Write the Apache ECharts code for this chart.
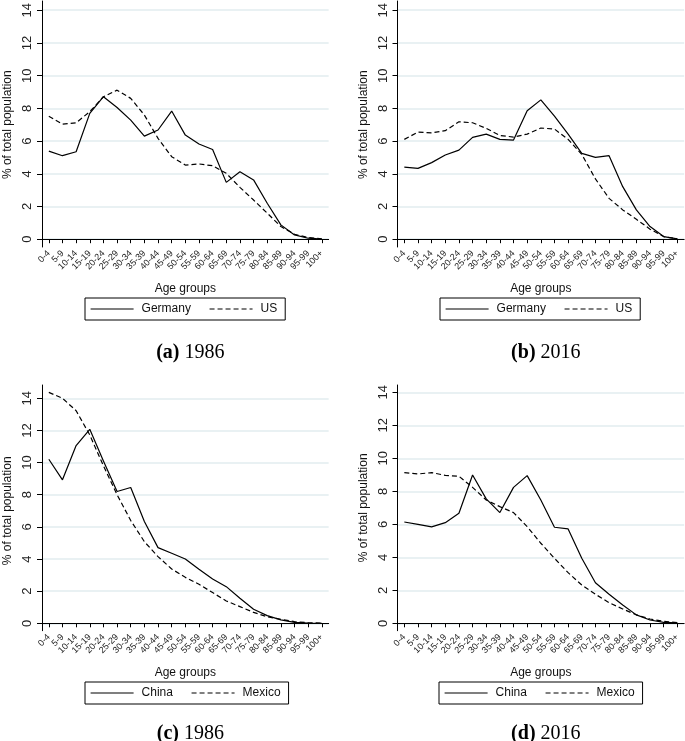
<!DOCTYPE html>
<html>
<head>
<meta charset="utf-8">
<script src="https://cdn.jsdelivr.net/npm/echarts@6/dist/echarts.min.js"></script>
<style>
html,body{margin:0;padding:0;background:#fff;}
#chart{width:685px;height:741px;}
</style>
</head>
<body>
<div id="chart"></div>
<script>
const ageGroups = ['0-4','5-9','10-14','15-19','20-24','25-29','30-34','35-39','40-44','45-49','50-54','55-59','60-64','65-69','70-74','75-79','80-84','85-89','90-94','95-99','100+'];

const germany1986 = [5.35,5.07,5.31,7.64,8.65,8.0,7.23,6.26,6.63,7.78,6.32,5.78,5.45,3.45,4.1,3.6,2.18,0.87,0.26,0.06,0.01];
const us1986      = [7.47,6.99,7.07,7.74,8.65,9.05,8.55,7.54,6.12,5.01,4.5,4.57,4.46,4.0,3.15,2.38,1.58,0.77,0.3,0.1,0.02];
const germany2016 = [4.38,4.3,4.65,5.11,5.41,6.18,6.38,6.06,6.02,7.8,8.46,7.47,6.38,5.21,4.97,5.07,3.19,1.78,0.77,0.16,0.02];
const us2016      = [6.06,6.5,6.46,6.59,7.13,7.07,6.73,6.3,6.2,6.38,6.75,6.69,6.06,5.15,3.66,2.48,1.78,1.21,0.61,0.16,0.02];
const china1986   = [10.21,8.93,11.06,12.07,10.1,8.2,8.45,6.33,4.71,4.36,4.0,3.36,2.76,2.28,1.56,0.87,0.48,0.21,0.06,0.02,0.0];
const mexico1986  = [14.37,14.0,13.23,11.72,9.8,8.0,6.4,5.08,4.15,3.38,2.86,2.43,1.91,1.39,1.04,0.68,0.41,0.25,0.1,0.04,0.01];
const china2016   = [6.14,6.0,5.84,6.1,6.67,8.99,7.54,6.71,8.24,8.95,7.47,5.82,5.72,3.94,2.46,1.76,1.11,0.51,0.2,0.06,0.02];
const mexico2016  = [9.13,9.05,9.13,8.97,8.91,8.24,7.47,7.07,6.71,5.86,4.85,3.94,3.07,2.32,1.76,1.25,0.87,0.51,0.26,0.12,0.04];

const yTickMin = 0, yTickMax = 14, yTickStep = 2;
const xTitle = 'Age groups';
const yTitle = '% of total population';

const panels = [
  {tag:'(a)', year:'1986', names:['Germany','US'], data:[germany1986, us1986],
   left:42, frameTop:1, frameBottom:247, zeroY:239.2, unit:16.47, legendLeft:85, legendTop:298, capY:338},
  {tag:'(b)', year:'2016', names:['Germany','US'], data:[germany2016, us2016],
   left:397.5, frameTop:1, frameBottom:247, zeroY:239.2, unit:16.47, legendLeft:440, legendTop:298, capY:338},
  {tag:'(c)', year:'1986', names:['China','Mexico'], data:[china1986, mexico1986],
   left:42, frameTop:385, frameBottom:630.7, zeroY:623.3, unit:16.07, legendLeft:85, legendTop:682, capY:719},
  {tag:'(d)', year:'2016', names:['China','Mexico'], data:[china2016, mexico2016],
   left:397.5, frameTop:385, frameBottom:630.7, zeroY:623.3, unit:16.5, legendLeft:439, legendTop:682, capY:719}
];

const catWidth = 13.65;
const plotWidth = catWidth * ageGroups.length;
const font = 'Liberation Sans, Arial, sans-serif';
const grid = [], xAxis = [], yAxis = [], series = [], legend = [], title = [];

panels.forEach((p, i) => {
  grid.push({left: p.left, top: p.frameTop, width: plotWidth, height: p.frameBottom - p.frameTop, containLabel: false});
  xAxis.push({
    type:'category', gridIndex:i, data: ageGroups, boundaryGap:true,
    axisLine:{show:true, lineStyle:{color:'#000', width:1}},
    axisTick:{show:true, alignWithLabel:true, length:4, lineStyle:{color:'#000'}},
    axisLabel:{show:true, rotate:45, interval:0, fontSize:9, color:'#222', fontFamily:font, margin:5},
    splitLine:{show:false},
    name: xTitle, nameLocation:'middle', nameGap:36,
    nameTextStyle:{fontSize:12, color:'#111', fontFamily:font}
  });
  yAxis.push({
    type:'value', gridIndex:i,
    min: -(p.frameBottom - p.zeroY) / p.unit,
    max: (p.zeroY - p.frameTop) / p.unit,
    axisLine:{show:true, onZero:false, lineStyle:{color:'#000', width:1}},
    axisTick:{show:false}, axisLabel:{show:false}, splitLine:{show:false}
  });
  p.names.forEach((n, k) => {
    series.push({
      type:'line', name:n, xAxisIndex:i, yAxisIndex:i, data:p.data[k],
      symbol:'none', smooth:false, z:3,
      lineStyle:{color:'#000', width:1.2, type: k === 0 ? 'solid' : [5,3]},
      itemStyle:{color:'#000'}
    });
  });
  legend.push({
    data:p.names, left:p.legendLeft, top:p.legendTop, orient:'horizontal',
    itemWidth:43, itemHeight:2, itemGap:18, padding:[5,8,5,5],
    borderColor:'#000', borderWidth:1, backgroundColor:'#fff',
    lineStyle:{width:1.2},
    itemStyle:{opacity:0},
    textStyle:{fontSize:12, color:'#111', fontFamily:font, padding:[0,0,0,3]},
    selectedMode:false
  });
  title.push({
    text: '{b|' + p.tag + '} {r|' + p.year + '}',
    left: p.left + plotWidth / 2, top: p.capY, textAlign:'center',
    textStyle:{fontWeight:'normal', rich:{
      b:{fontFamily:'Liberation Serif, serif', fontWeight:'bold', fontSize:20, color:'#000'},
      r:{fontFamily:'Liberation Serif, serif', fontWeight:'normal', fontSize:20, color:'#000'}
    }}
  });
});

// tick grids (0..14 step 2)
panels.forEach((p, i) => {
  const gi = panels.length + i;
  grid.push({left: p.left, top: p.zeroY - yTickMax * p.unit, width: plotWidth, height: (yTickMax - yTickMin) * p.unit, containLabel:false});
  xAxis.push({type:'value', gridIndex:gi, show:false, min:0, max:1});
  yAxis.push({
    type:'value', gridIndex:gi, min:yTickMin, max:yTickMax, interval:yTickStep,
    axisLine:{show:false},
    axisTick:{show:true, inside:false, length:5, lineStyle:{color:'#000'}},
    axisLabel:{show:true, rotate:90, fontSize:13, color:'#222', fontFamily:font, margin:8},
    splitLine:{show:true, lineStyle:{color:'#e2ecef', width:1.5}},
    name: yTitle, nameLocation:'middle', nameGap:28, nameRotate:90,
    nameTextStyle:{fontSize:12, color:'#111', fontFamily:font}
  });
});

const chart = echarts.init(document.getElementById('chart'), null, {renderer:'canvas'});
chart.setOption({
  animation:false, backgroundColor:'#fff',
  grid, xAxis, yAxis, series, legend, title
});
</script>
</body>
</html>
